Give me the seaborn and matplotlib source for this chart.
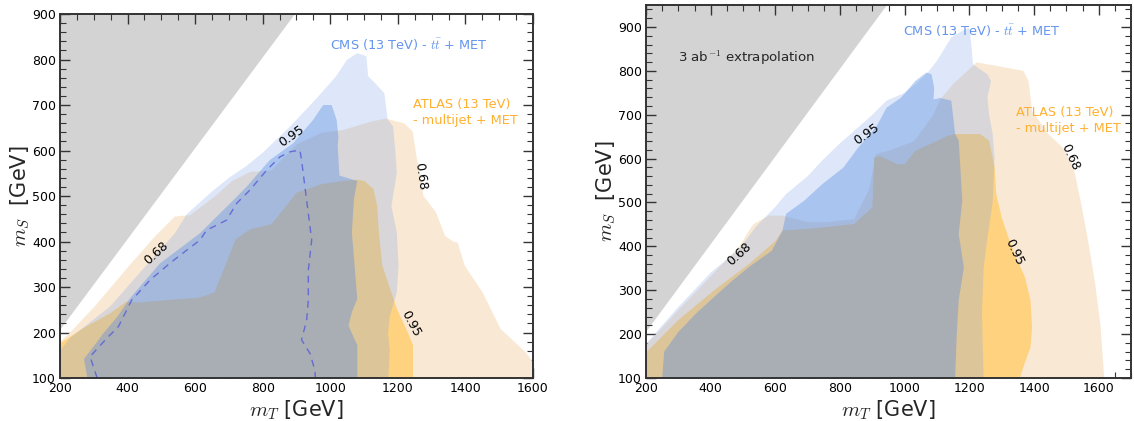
import numpy as np
import pandas as pd
import matplotlib
matplotlib.use("Agg")
import matplotlib.pyplot as plt
from matplotlib.ticker import MultipleLocator
import seaborn as sns

# ---------------- data: contour outlines (mT, mS) in GeV ----------------
# left panel: current 13 TeV luminosity
L_atlas68_mT = [200, 200, 230, 300, 412, 480, 540, 585, 660, 710, 763, 826, 900, 975, 1038, 1123, 1165, 1218, 1244, 1255, 1266, 1276, 1313, 1340, 1366, 1377, 1398, 1451, 1504, 1546, 1578, 1600, 1600]
L_atlas68_mS = [100, 179, 200, 255, 353, 410, 455, 458, 500, 533, 553, 556, 613, 639, 645, 664, 670, 660, 642, 588, 544, 500, 464, 412, 399, 398, 347, 288, 208, 179, 157, 135, 100]

L_atlas95_mT = [200, 200, 270, 348, 397, 435, 498, 615, 657, 689, 720, 763, 826, 869, 900, 975, 1038, 1080, 1101, 1128, 1139, 1144, 1154, 1181, 1197, 1229, 1245, 1245]
L_atlas95_mS = [100, 176, 210, 242, 268, 266, 270, 277, 288, 347, 405, 427, 438, 478, 507, 526, 533, 536, 533, 515, 478, 420, 347, 288, 252, 201, 172, 100]

L_cms68_mT = [200, 200, 230, 348, 456, 540, 575, 650, 700, 750, 800, 880, 960, 1017, 1049, 1080, 1107, 1112, 1133, 1160, 1165, 1170, 1186, 1192, 1197, 1181, 1197, 1202, 1197, 1176, 1171, 1176, 1172]
L_cms68_mS = [100, 160, 188, 257, 348, 418, 460, 510, 540, 565, 595, 652, 715, 763, 799, 814, 807, 763, 748, 726, 697, 668, 653, 602, 551, 478, 420, 347, 288, 235, 198, 162, 100]

L_cms95_mT = [281, 271, 300, 328, 370, 407, 496, 614, 693, 752, 821, 890, 949, 979, 1004, 1019, 1024, 1022, 1027, 1080, 1070, 1064, 1080, 1064, 1054, 1080, 1080]
L_cms95_mS = [100, 142, 170, 198, 235, 275, 352, 418, 476, 520, 579, 616, 667, 700, 700, 667, 630, 610, 545, 533, 493, 420, 274, 245, 215, 172, 100]

L_exp_mT = [310, 289, 338, 373, 412, 466, 525, 575, 614, 634, 693, 723, 762, 812, 851, 880, 910, 915, 925, 935, 945, 935, 935, 930, 915, 940, 954, 956]
L_exp_mS = [100, 147, 187, 213, 271, 315, 352, 381, 403, 425, 447, 484, 513, 557, 586, 597, 601, 579, 520, 462, 403, 337, 271, 227, 184, 154, 118, 100]

# right panel: 3 ab^-1 extrapolation
R_atlas68_mT = [200, 200, 300, 411, 489, 522, 533, 580, 622, 700, 760, 844, 890, 911, 960, 1030, 1089, 1110, 1150, 1222, 1256, 1367, 1383, 1394, 1444, 1489, 1522, 1544, 1567, 1589, 1606, 1617]
R_atlas68_mS = [100, 175, 255, 340, 400, 440, 451, 470, 470, 455, 455, 462, 530, 610, 620, 640, 700, 735, 770, 819, 815, 800, 777, 709, 656, 625, 580, 504, 413, 315, 216, 100]

R_atlas95_mT = [200, 200, 300, 411, 522, 600, 622, 700, 744, 844, 900, 906, 922, 978, 1000, 1033, 1078, 1133, 1156, 1233, 1261, 1278, 1283, 1300, 1317, 1344, 1372, 1389, 1394, 1389, 1367, 1356]
R_atlas95_mS = [100, 158, 232, 300, 362, 412, 436, 440, 443, 451, 489, 603, 606, 587, 587, 618, 633, 652, 656, 656, 641, 580, 519, 466, 428, 375, 330, 277, 216, 170, 125, 100]

R_cms68_mT = [200, 200, 300, 400, 489, 540, 600, 633, 700, 744, 800, 856, 900, 944, 1000, 1033, 1070, 1100, 1144, 1178, 1200, 1206, 1211, 1256, 1267, 1256, 1261, 1272, 1278, 1272, 1256, 1244, 1239, 1244]
R_cms68_mS = [100, 178, 262, 340, 395, 445, 490, 519, 560, 595, 635, 671, 700, 732, 750, 769, 795, 823, 876, 891, 898, 860, 815, 792, 777, 740, 700, 656, 600, 500, 420, 350, 250, 100]

R_cms95_mT = [250, 256, 300, 356, 411, 467, 522, 589, 622, 633, 689, 744, 811, 856, 911, 944, 989, 1033, 1067, 1083, 1091, 1089, 1110, 1144, 1150, 1156, 1167, 1172, 1178, 1167, 1183, 1167, 1161, 1156]
R_cms95_mS = [100, 160, 205, 248, 285, 322, 355, 390, 436, 474, 504, 541, 580, 625, 671, 716, 739, 777, 796, 792, 762, 735, 738, 732, 694, 656, 641, 580, 504, 428, 352, 277, 201, 100]

# ---------------- styling ----------------
sns.set_theme(style="ticks")
plt.rcParams["font.family"] = ["DejaVu Sans"]
plt.rcParams["mathtext.fontset"] = "cm"

C_ATLAS68 = "#f9e9d4"
C_ATLAS95 = "#ffd280"
C_CMS68 = (120 / 255, 160 / 255, 232 / 255)
C_CMS95 = (82 / 255, 139 / 255, 225 / 255)
C_EXCL = "#d3d3d3"
C_CMS_TXT = "#6495ed"
C_ATLAS_TXT = "#ffb02e"
FRAME = "#333333"
TXT = 9.3


def region(ax, mT, mS, color, alpha=1.0, z=1):
    ax.fill(mT, mS, color=color, alpha=alpha, lw=0, zorder=z)


def panel(ax, atlas68, atlas95, cms68, cms95, xmax, ymax, exp=None):
    # kinematically excluded corner
    ax.fill([200, 200, ymax - 5], [205, ymax, ymax], color=C_EXCL, lw=0, zorder=0.5)
    region(ax, *atlas68, C_ATLAS68, 1.0, 1)
    region(ax, *atlas95, C_ATLAS95, 1.0, 2)
    region(ax, *cms68, C_CMS68, 0.25, 3)
    region(ax, *cms95, C_CMS95, 0.38, 4)
    if exp is not None:
        df = pd.DataFrame({"mT": exp[0], "mS": exp[1]})
        sns.lineplot(data=df, x="mT", y="mS", sort=False, estimator=None, ax=ax,
                     color="#5a5fd6", lw=1.0, zorder=5)
        ax.lines[-1].set_linestyle((0, (5, 4)))
        ax.lines[-1].set_alpha(0.85)
    ax.set_xlim(200, xmax)
    ax.set_ylim(100, ymax)
    ax.xaxis.set_major_locator(MultipleLocator(200))
    ax.xaxis.set_minor_locator(MultipleLocator(50))
    ax.yaxis.set_major_locator(MultipleLocator(100))
    ax.yaxis.set_minor_locator(MultipleLocator(20))
    ax.tick_params(which="both", direction="in", top=True, right=True, colors=FRAME,
                   labelcolor="black", labelsize=9, pad=3)
    ax.tick_params(which="major", length=7, width=1.0)
    ax.tick_params(which="minor", length=4, width=0.8)
    for s in ax.spines.values():
        s.set_color(FRAME)
        s.set_linewidth(1.4)
        s.set_zorder(10)
    ax.set_xlabel(r"$m_T$ [GeV]", fontsize=15, labelpad=2)
    ax.set_ylabel(r"$m_S$  [GeV]", fontsize=15, labelpad=0)


fig = plt.figure(figsize=(11.34, 4.21), dpi=100)
axL = fig.add_axes([0.0529, 0.1021, 0.4171, 0.8646])
axR = fig.add_axes([0.5697, 0.1021, 0.4277, 0.8860])

panel(axL, (L_atlas68_mT, L_atlas68_mS), (L_atlas95_mT, L_atlas95_mS),
      (L_cms68_mT, L_cms68_mS), (L_cms95_mT, L_cms95_mS), 1600, 900,
      exp=(L_exp_mT, L_exp_mS))
panel(axR, (R_atlas68_mT, R_atlas68_mS), (R_atlas95_mT, R_atlas95_mS),
      (R_cms68_mT, R_cms68_mS), (R_cms95_mT, R_cms95_mS), 1700, 950)

lab = dict(fontsize=9, color="black", ha="center", va="center", zorder=8)
# left panel annotations
axL.text(999, 832, r"CMS (13 TeV) - $t\bar{t}$ + MET", color=C_CMS_TXT, fontsize=TXT, va="center", zorder=8)
axL.text(1244, 716, "ATLAS (13 TeV)\n- multijet + MET", color=C_ATLAS_TXT, fontsize=TXT, va="top",
         linespacing=1.3, zorder=8)
axL.text(486, 374, "0.68", rotation=42, **lab)
axL.text(885, 631, "0.95", rotation=35, **lab)
axL.text(1266, 544, "0.68", rotation=-82, **lab)
axL.text(1237, 219, "0.95", rotation=-62, **lab)
# right panel annotations
axR.text(995, 890, r"CMS (13 TeV) - $t\bar{t}$ + MET", color=C_CMS_TXT, fontsize=TXT, va="center", zorder=8)
axR.text(1344, 720, "ATLAS (13 TeV)\n- multijet + MET", color=C_ATLAS_TXT, fontsize=TXT, va="top",
         linespacing=1.3, zorder=8)
axR.text(299, 830, r"3 ab$^{-1}$ extrapolation", fontsize=9.6, va="center", zorder=8)
axR.text(489, 383, "0.68", rotation=42, **lab)
axR.text(883, 656, "0.95", rotation=35, **lab)
axR.text(1511, 603, "0.68", rotation=-65, **lab)
axR.text(1339, 387, "0.95", rotation=-65, **lab)

fig.savefig("out.png", dpi=100)
